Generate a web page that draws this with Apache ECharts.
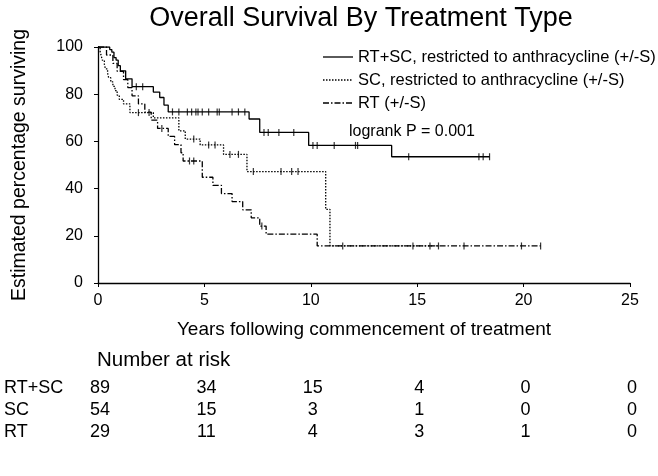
<!DOCTYPE html>
<html><head><meta charset="utf-8">
<script src="https://cdn.jsdelivr.net/npm/echarts@6/dist/echarts.min.js"></script>
<style>html,body{margin:0;padding:0;background:#fff}#c{width:658px;height:476px}</style>
</head><body><div id="c"></div>
<script>
const titleText = 'Overall Survival By Treatment Type';
const seriesNames = ['RT+SC, restricted to anthracycline (+/-S)', 'SC, restricted to anthracycline (+/-S)', 'RT (+/-S)'];

// RT+SC (solid)
const rtscTimes = [0, 0.55, 0.65, 0.75, 0.85, 0.95, 1.05, 1.3, 1.6, 2.6, 2.9, 3.1, 3.3, 7.1, 7.6, 9.9, 13.8];
const rtscSurv  = [100, 98.9, 97.8, 95.5, 94.4, 92.1, 89.9, 86.5, 83.2, 80.9, 78.6, 75.4, 72.5, 69.5, 63.8, 58.3, 53.5];
const rtscEnd = 18.4;
const rtscCensor = [1.8, 2.1, 3.5, 3.8, 4.2, 4.4, 4.6, 4.7, 4.9, 5.2, 5.6, 5.7, 6.3, 6.6, 6.9, 7.8, 8.0, 8.5, 9.2, 10.1, 10.3, 11.1, 12.1, 12.2, 14.6, 17.9, 18.1, 18.4];

// SC (dotted)
const scTimes = [0, 0.1, 0.15, 0.2, 0.3, 0.35, 0.45, 0.5, 0.6, 0.7, 0.8, 0.9, 1.0, 1.2, 1.5, 2.6, 3.8, 4.1, 4.8, 5.9, 7.0, 10.7, 10.9];
const scSurv  = [100, 98.1, 96.3, 94.4, 92.6, 90.7, 88.9, 87.0, 85.2, 83.3, 81.5, 79.6, 77.8, 75.9, 72.2, 70.0, 64.5, 61.0, 58.5, 54.5, 47.2, 31.2, 15.7];
const scEnd = 16.0;
const scCensor = [1.9, 2.4, 4.5, 5.2, 5.5, 6.2, 6.6, 7.3, 8.6, 9.1, 9.4, 11.5, 16.0];

// RT (dash-dot)
const rtTimes = [0, 0.4, 0.7, 0.9, 1.2, 1.4, 1.6, 1.9, 2.2, 2.5, 2.8, 3.3, 3.6, 3.9, 4.0, 4.9, 5.4, 5.8, 6.3, 6.8, 7.2, 7.6, 7.9, 10.3];
const rtSurv  = [100, 96.6, 93.1, 89.7, 86.2, 82.8, 79.3, 75.9, 72.4, 69.0, 65.5, 62.1, 58.6, 55.2, 51.7, 44.8, 41.4, 37.9, 34.5, 31.0, 27.6, 24.1, 20.7, 15.7];
const rtEnd = 20.8;
const rtCensor = [3.0, 4.3, 4.5, 7.7, 14.8, 15.6, 17.2, 19.9, 20.8];

const xTicks = [0, 5, 10, 15, 20, 25];
const riskRowLabels = ['RT+SC', 'SC', 'RT'];
const riskRTSC = [89, 34, 15, 4, 0, 0];
const riskSC   = [54, 15, 3, 1, 0, 0];
const riskRT   = [29, 11, 4, 3, 1, 0];
const logrankText = 'logrank P = 0.001';

const FONT = "'Liberation Sans', Arial, sans-serif";

function stepData(times, surv, end) {
  const d = times.map((t, i) => [t, surv[i]]);
  d.push([end, surv[surv.length - 1]]);
  return d;
}
function survAt(times, surv, t) {
  let v = surv[0];
  for (let i = 0; i < times.length; i++) { if (times[i] <= t) v = surv[i]; }
  return v;
}
function censorData(times, surv, cs) { return cs.map(t => [t, survAt(times, surv, t)]); }

const lineTypes = ['solid', [1.5, 1.5], [6, 2, 1.5, 2]];
const groups = [
  {name: seriesNames[0], d: stepData(rtscTimes, rtscSurv, rtscEnd), c: censorData(rtscTimes, rtscSurv, rtscCensor)},
  {name: seriesNames[1], d: stepData(scTimes, scSurv, scEnd), c: censorData(scTimes, scSurv, scCensor)},
  {name: seriesNames[2], d: stepData(rtTimes, rtSurv, rtEnd), c: censorData(rtTimes, rtSurv, rtCensor)}
];

const series = [];
groups.forEach((g, i) => {
  series.push({
    name: g.name, type: 'line', step: 'end', data: g.d, symbol: 'none', showSymbol: false,
    lineStyle: {color: '#000', width: 1.3, type: lineTypes[i]}, itemStyle: {color: '#000'},
    z: 3 - i, animation: false
  });
  series.push({
    type: 'scatter', data: g.c, symbol: 'rect', symbolSize: [1.2, 7],
    itemStyle: {color: '#000'}, silent: true, animation: false, z: 3
  });
});

const chart = echarts.init(document.getElementById('c'), null, {renderer: 'canvas'});
chart.setOption({
  animation: false,
  backgroundColor: '#fff',
  title: {text: titleText, left: 356, textAlign: 'center', top: 0,
    textStyle: {fontFamily: FONT, fontSize: 27, fontWeight: 'normal', color: '#000'}},
  grid: {left: 98, right: 28, top: 47, bottom: 193},
  xAxis: {
    type: 'value', min: 0, max: 25, interval: 5,
    name: 'Years following commencement of treatment', nameLocation: 'middle', nameGap: 37,
    nameTextStyle: {fontFamily: FONT, fontSize: 19, color: '#000'},
    axisLine: {onZero: false, lineStyle: {color: '#000', width: 1.3}},
    axisTick: {show: true, length: 4, lineStyle: {color: '#000'}},
    axisLabel: {fontFamily: FONT, fontSize: 16, color: '#000', margin: 10},
    splitLine: {show: false}
  },
  yAxis: {
    type: 'value', min: 0, max: 100, interval: 20,
    name: 'Estimated percentage surviving', nameLocation: 'middle', nameGap: 68,
    nameTextStyle: {fontFamily: FONT, fontSize: 19.5, color: '#000'},
    axisLine: {show: true, lineStyle: {color: '#000', width: 1.3}},
    axisTick: {show: true, length: 4, lineStyle: {color: '#000'}},
    axisLabel: {fontFamily: FONT, fontSize: 16, color: '#000', margin: 15},
    splitLine: {show: false}
  },
  series: series
});

const g = [];
// legend
const legY = [57, 80, 103];
seriesNames.forEach((n, i) => {
  g.push({type: 'line', shape: {x1: 323, y1: legY[i], x2: 353, y2: legY[i]},
    style: {stroke: '#000', lineWidth: 1.3, lineDash: lineTypes[i] === 'solid' ? null : lineTypes[i]}});
  g.push({type: 'text', x: 358, y: legY[i], style: {text: n, font: '16.5px ' + FONT, fill: '#000', verticalAlign: 'middle'}});
});
g.push({type: 'text', left: 349, top: 124, style: {text: logrankText, font: '16px ' + FONT, fill: '#000'}});
g.push({type: 'text', left: 97, top: 350, style: {text: 'Number at risk', font: '20.5px ' + FONT, fill: '#000'}});
const rows = [riskRTSC, riskSC, riskRT];
const rowY = [388, 410, 432];
rows.forEach((r, ri) => {
  g.push({type: 'text', x: 4, y: rowY[ri], style: {text: riskRowLabels[ri], font: '18px ' + FONT, fill: '#000', verticalAlign: 'middle'}});
  r.forEach((v, ci) => {
    const px = chart.convertToPixel({xAxisIndex: 0}, xTicks[ci]);
    g.push({type: 'text', x: px + 2, y: rowY[ri], style: {text: String(v), font: '18px ' + FONT, fill: '#000', align: 'center', verticalAlign: 'middle'}});
  });
});
chart.setOption({graphic: g});
</script></body></html>
